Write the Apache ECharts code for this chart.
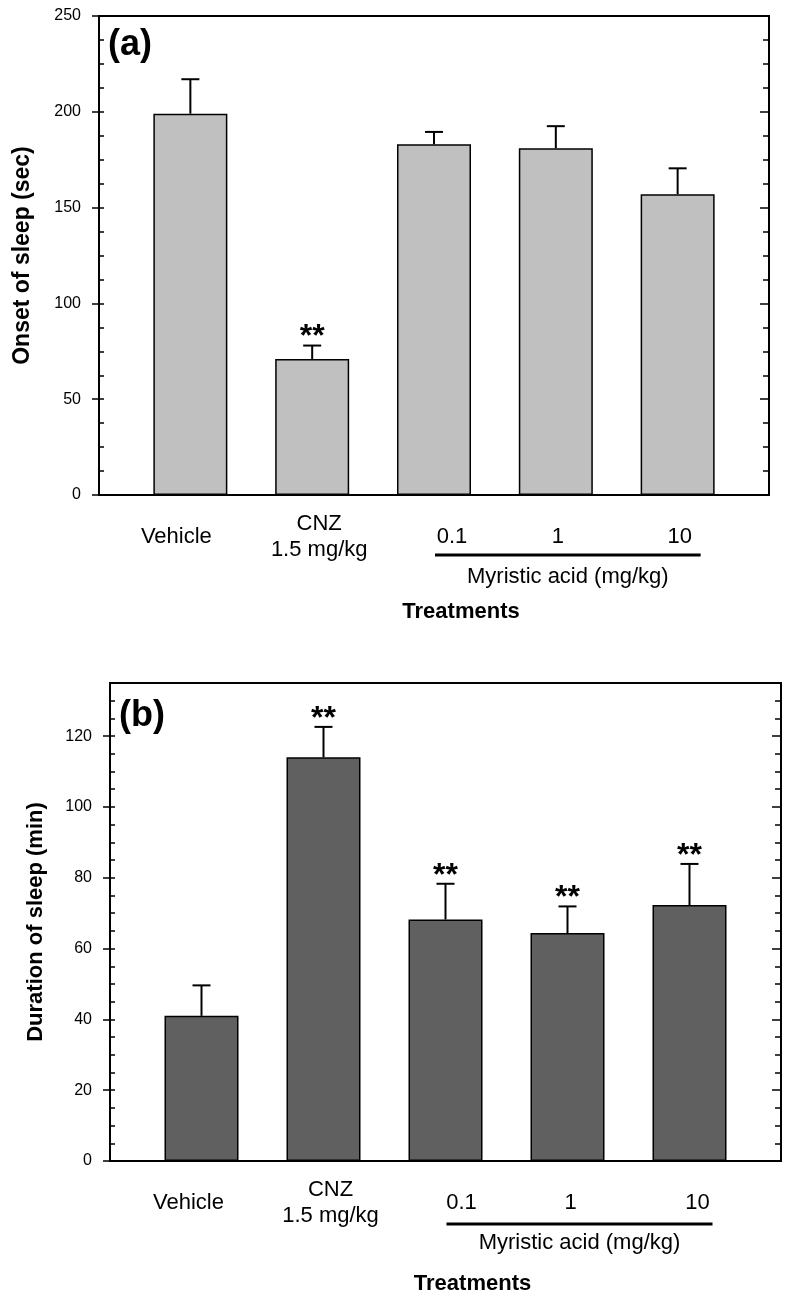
<!DOCTYPE html>
<html><head><meta charset="utf-8">
<script src="https://cdn.jsdelivr.net/npm/echarts@6/dist/echarts.min.js"></script>
<style>html,body{margin:0;padding:0;background:#fff}#c{width:793px;height:1304px}</style>
</head><body><div id="c"></div>
<script>
// ---------- data ----------
const categories = ['Vehicle', 'CNZ\n1.5 mg/kg', '0.1', '1', '10'];
const groupLabel = 'Myristic acid (mg/kg)';
const xTitle = 'Treatments';
const panelLabels = ['(a)', '(b)'];
const onsetTitle = 'Onset of sleep (sec)';
const onsetMean  = [199, 71, 183, 181, 157];
const onsetUpper = [217, 78, 189.5, 192.5, 170.5];
const onsetStars = ['', '**', '', '', ''];
const onsetTicks = [0, 50, 100, 150, 200, 250];
const durationTitle = 'Duration of sleep (min)';
const durationMean  = [41, 114, 68.2, 64.4, 72.3];
const durationUpper = [49.6, 122.6, 78.3, 71.9, 83.9];
const durationStars = ['', '**', '**', '**', '**'];
const durationTicks = [0, 20, 40, 60, 80, 100, 120];

// ---------- layout / style ----------
const FONT = 'Liberation Sans';
const labelDx = [[-14, 7, 18, 2, 2], [-13, 7, 16, 3, 8]];

function panel(gi, mean, upper, stars, ticks, yMax, yTitle, fill, nameGap, titleSize, minorInterval, grp) {
  const yBase = gi * 4;
  const yAxes = [
    { gridIndex: gi, type: 'value', position: 'left', min: 0, max: yMax, interval: ticks[1] - ticks[0],
      axisLine: { show: true, onZero: false, lineStyle: { color: '#000', width: 2 } },
      axisTick: { show: true, length: 7, lineStyle: { color: '#000', width: 1.5 }, customValues: ticks },
      axisLabel: { show: true, color: '#000', fontSize: 16, fontFamily: FONT, margin: 18, customValues: ticks },
      splitLine: { show: false },
      name: yTitle, nameLocation: 'middle', nameRotate: 90, nameGap: nameGap,
      nameTextStyle: { fontSize: titleSize, fontWeight: 'bold', color: '#000', fontFamily: FONT } },
    { gridIndex: gi, type: 'value', position: 'left', min: 0, max: yMax, interval: minorInterval,
      axisLine: { show: false, onZero: false }, axisLabel: { show: false }, splitLine: { show: false },
      axisTick: { show: true, inside: true, length: 5, lineStyle: { color: '#000', width: 1.5 } } },
    { gridIndex: gi, type: 'value', position: 'right', min: 0, max: yMax, interval: minorInterval,
      axisLine: { show: true, onZero: false, lineStyle: { color: '#000', width: 2 } }, axisLabel: { show: false }, splitLine: { show: false },
      axisTick: { show: true, inside: true, length: 6, lineStyle: { color: '#000', width: 1.5 } } },
    { gridIndex: gi, type: 'value', position: 'right', min: 0, max: yMax, interval: ticks[1] - ticks[0],
      axisLine: { show: false, onZero: false }, axisLabel: { show: false }, splitLine: { show: false },
      axisTick: { show: true, inside: true, length: 9, customValues: ticks, lineStyle: { color: '#000', width: 1.5 } } }
  ];
  const xAxis = { gridIndex: gi, type: 'value', min: -0.75, max: 4.75,
    axisLine: { show: true, onZero: false, lineStyle: { color: '#000', width: 2 } },
    axisTick: { show: false }, axisLabel: { show: false }, splitLine: { show: false } };
  const series = [
    { type: 'bar', xAxisIndex: gi, yAxisIndex: yBase, barWidth: 74,
      data: mean.map((v, i) => [i, v]),
      itemStyle: { color: fill, borderColor: '#000', borderWidth: 1.5 }, silent: true },
    { type: 'custom', xAxisIndex: gi, yAxisIndex: yBase, encode: { x: 0, y: [1, 2] },
      data: mean.map((v, i) => [i, v, upper[i]]),
      renderItem: function (params, api) {
        const i = params.dataIndex;
        const b = api.coord([api.value(0), api.value(1)]);
        const t = api.coord([api.value(0), api.value(2)]);
        const ch = [
          { type: 'line', shape: { x1: b[0], y1: b[1], x2: t[0], y2: t[1] }, style: { stroke: '#000', lineWidth: 2 } },
          { type: 'line', shape: { x1: t[0] - 9, y1: t[1], x2: t[0] + 9, y2: t[1] }, style: { stroke: '#000', lineWidth: 2 } }
        ];
        if (stars[i]) ch.push({ type: 'text', style: { text: stars[i], x: t[0], y: t[1] - 8, align: 'center', verticalAlign: 'middle',
          font: 'bold 32px "' + FONT + '"', fill: '#000' } });
        return { type: 'group', children: ch };
      } },
    { type: 'custom', xAxisIndex: gi, yAxisIndex: yBase, encode: { x: 0, y: 1 },
      data: categories.map((c, i) => [i, 0]),
      renderItem: function (params, api) {
        const i = params.dataIndex;
        const p = api.coord([api.value(0), 0]);
        return { type: 'text', style: { text: categories[i], x: p[0] + labelDx[gi][i], y: p[1] + 42,
          align: 'center', verticalAlign: 'middle', lineHeight: 26, font: '22px "' + FONT + '"', fill: '#000' } };
      } },
    { type: 'custom', xAxisIndex: gi, yAxisIndex: yBase, encode: { x: 0, y: 1 },
      data: [[2, 0, 4]],
      renderItem: function (params, api) {
        const a = api.coord([api.value(0), 0]);
        const b = api.coord([api.value(2), 0]);
        const m = api.coord([(api.value(0) + api.value(2)) / 2, 0]);
        const mid = api.coord([2, 0]);
        const gl = grp;
        return { type: 'group', children: [
          { type: 'line', shape: { x1: a[0] + 1, y1: a[1] + gl.line, x2: b[0] + 23, y2: b[1] + gl.line }, style: { stroke: '#000', lineWidth: 3 } },
          { type: 'text', style: { text: groupLabel, x: m[0] + 12, y: m[1] + 82, align: 'center', verticalAlign: 'middle',
            font: '22px "' + FONT + '"', fill: '#000' } },
          { type: 'text', style: { text: xTitle, x: mid[0] + 27, y: mid[1] + gl.title, align: 'center', verticalAlign: 'middle',
            font: 'bold 22px "' + FONT + '"', fill: '#000' } },
          { type: 'text', style: { text: panelLabels[gi], x: api.coord([-0.75, 0])[0] + 9, y: api.coord([0, yMax])[1] + gl.panel,
            align: 'left', verticalAlign: 'middle', font: 'bold 36px "' + FONT + '"', fill: '#000' } }
        ] };
      } }
  ];
  return { yAxes, xAxis, series };
}

const pA = panel(0, onsetMean, onsetUpper, onsetStars, onsetTicks, 250, onsetTitle, '#c0c0c0', 65, 23, 12.5, { line: 60, title: 117, panel: 29 });
const pB = panel(1, durationMean, durationUpper, durationStars, durationTicks, 135, durationTitle, '#606060', 63, 22, 5, { line: 63, title: 123, panel: 33 });

const chart = echarts.init(document.getElementById('c'), null, { renderer: 'canvas' });
chart.setOption({
  animation: false,
  backgroundColor: '#fff',
  grid: [
    { left: 99, top: 16, width: 670, height: 479, show: true, borderColor: '#000', borderWidth: 2, backgroundColor: 'transparent' },
    { left: 110, top: 683, width: 671, height: 478, show: true, borderColor: '#000', borderWidth: 2, backgroundColor: 'transparent' }
  ],
  xAxis: [pA.xAxis, pB.xAxis],
  yAxis: pA.yAxes.concat(pB.yAxes),
  series: pA.series.concat(pB.series)
});
</script></body></html>
